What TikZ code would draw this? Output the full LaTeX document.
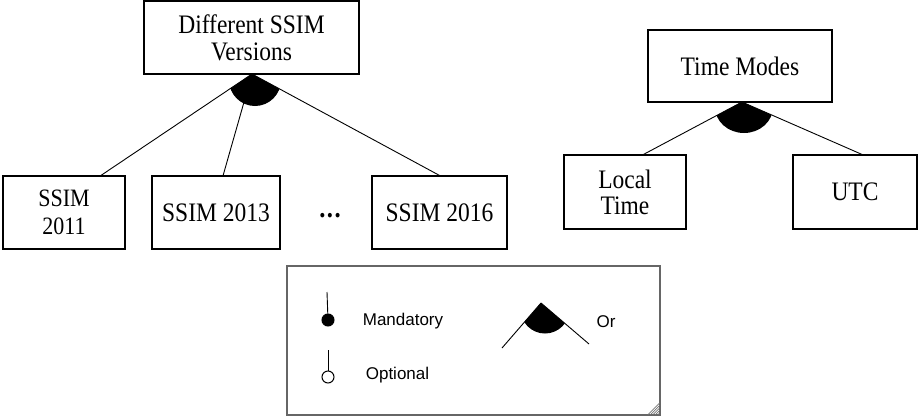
\documentclass[tikz,border=0pt]{standalone}
\usepackage{fontspec}
\setmainfont[FakeStretch=0.88]{Liberation Serif}
\newfontfamily\legendfont{Liberation Sans}
\usetikzlibrary{calc}
\tikzset{
  featbox/.style={draw=black, line width=1.1pt, inner sep=0pt, align=center,
    font=\fontsize{26.7}{27}\selectfont},
  conn/.style={draw=black, line width=0.9pt},
  legtext/.style={inner sep=0pt, font=\legendfont\fontsize{17}{20}\selectfont},
  legdot/.style={circle, draw=black, line width=1pt, minimum size=12pt, inner sep=0pt},
}
\begin{document}
\begin{tikzpicture}[x=1pt, y=-1pt]
\useasboundingbox (0,0) rectangle (922,418);
% feature boxes
\node[featbox, minimum width=215pt, minimum height=73pt] (ver) at (251.5,37.5) {Different SSIM\\Versions};
\node[featbox, minimum width=122pt, minimum height=73pt, font=\fontsize{25}{28}\selectfont] (s11) at (64,212.5) {SSIM\\2011};
\node[featbox, minimum width=128pt, minimum height=73pt] (s13) at (216,212.5) {SSIM 2013};
\node[featbox, minimum width=135pt, minimum height=73pt] (s16) at (439.5,212.5) {SSIM 2016};
\node[inner sep=0pt, font=\fontsize{28}{30}\selectfont\bfseries] (dots) at (330,216) {.\kern1.5pt.\kern1.5pt.};
\node[featbox, minimum width=184pt, minimum height=72pt] (tm) at (740,66) {Time Modes};
\node[featbox, minimum width=122pt, minimum height=74pt, font=\fontsize{26.7}{26}\selectfont] (lt) at (625,192) {Local\\Time};
\node[featbox, minimum width=124pt, minimum height=74pt] (utc) at (855,192) {UTC};
% attach points
\coordinate (a11) at ($(s11.north west)!0.80!(s11.north east)$);
\coordinate (a13) at ($(s13.north west)!0.555!(s13.north east)$);
\coordinate (a16) at ($(s16.north west)!0.50!(s16.north east)$);
\coordinate (alt) at ($(lt.north west)!0.65!(lt.north east)$);
\coordinate (autc) at ($(utc.north west)!0.556!(utc.north east)$);
\coordinate (apv) at (252,74);
\coordinate (apt) at (742,102);
% or-groups
\begin{scope}
  \clip (255,80) circle [radius=26pt];
  \fill[black] (apv) -- (a11) -- (a16) -- cycle;
\end{scope}
\draw[conn] (apv) -- (a11);
\draw[conn] (apv) -- (a13);
\draw[conn] (apv) -- (a16);
\begin{scope}
  \clip (744,107) ellipse [x radius=29pt, y radius=26pt];
  \fill[black] (apt) -- (alt) -- (autc) -- cycle;
\end{scope}
\draw[conn] (apt) -- (alt);
\draw[conn] (apt) -- (autc);
% legend
\node[draw=black!60, line width=1.6pt, minimum width=373pt, minimum height=149pt, inner sep=0pt] (leg) at (473.5,340.5) {};
\foreach \k in {3,5.5,8,10.5,13} {
  \draw[black!55, line width=0.6pt] ($(leg.south east)+(-\k,-1)$) -- ($(leg.south east)+(-1,-\k)$);
}
\node[legdot, fill=black] (mand) at (328,320) {};
\coordinate (mtop) at (327,292);
\draw[conn] (mtop) -- (mand);
\node[legtext] (mtxt) at (403,321) {Mandatory};
\node[legdot, fill=white] (opt) at (328,377) {};
\coordinate (otop) at (328,350);
\draw[conn] (otop) -- (opt);
\node[legtext] (otxt) at (397.5,375) {Optional};
\coordinate (lap) at (541,303);
\coordinate (lal) at (502,348);
\coordinate (lar) at (589,344);
\begin{scope}
  \clip (545,309) circle [radius=24.5pt];
  \fill[black] (lap) -- (lal) -- (lar) -- cycle;
\end{scope}
\draw[conn] (lap) -- (lal);
\draw[conn] (lap) -- (lar);
\node[legtext] (ortxt) at (606,322) {Or};
\end{tikzpicture}
\end{document}
